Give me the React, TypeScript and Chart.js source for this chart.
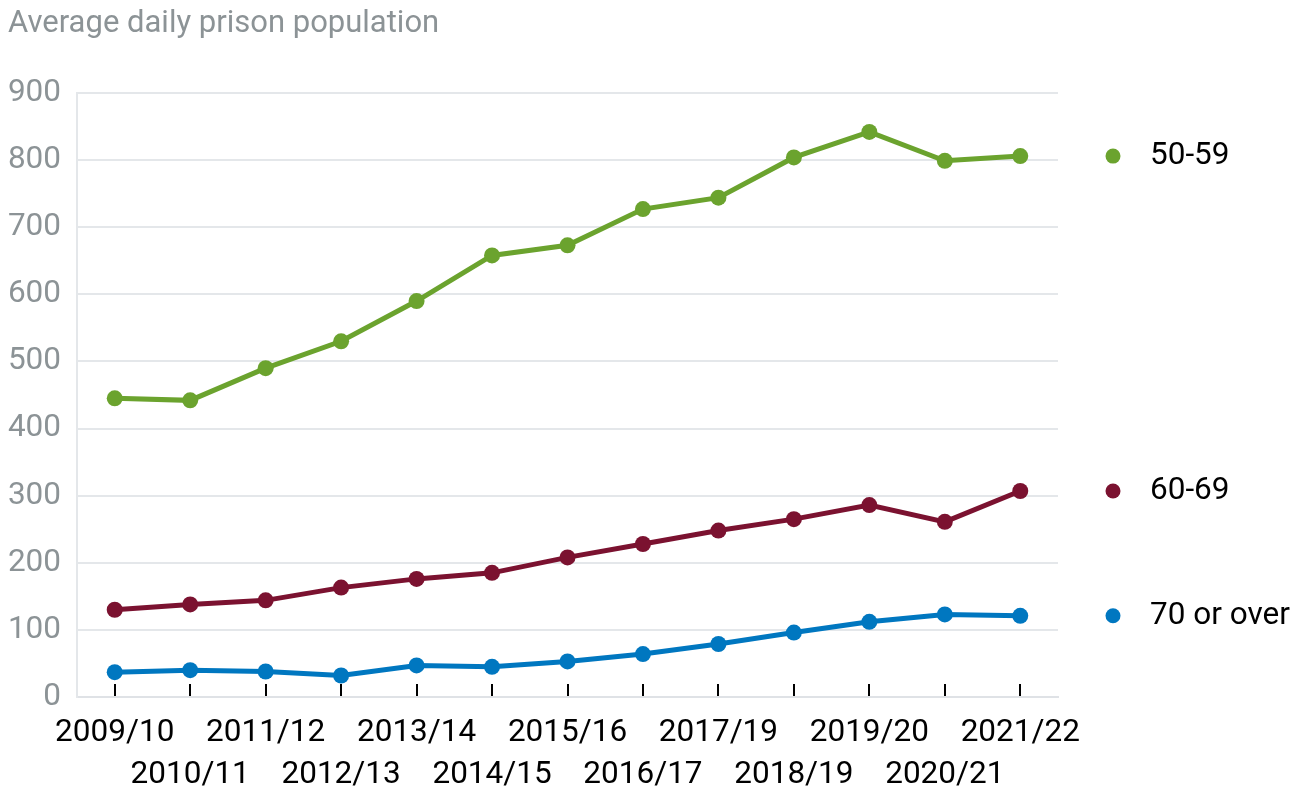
import React, { useEffect, useRef } from "react";
import { Chart, registerables } from "chart.js";

Chart.register(...registerables);

const categories = [
  "2009/10", "2010/11", "2011/12", "2012/13", "2013/14", "2014/15", "2015/16",
  "2016/17", "2017/19", "2018/19", "2019/20", "2020/21", "2021/22",
];
const age50to59 = [445, 442, 490, 530, 590, 658, 673, 727, 744, 804, 842, 799, 806];
const age60to69 = [130, 138, 144, 163, 176, 185, 208, 228, 248, 265, 286, 261, 307];
const age70plus = [37, 40, 38, 32, 47, 45, 53, 64, 79, 96, 112, 123, 121];
const seriesNames = ["50-59", "60-69", "70 or over"];
const seriesColors = ["#6ba32e", "#7b1230", "#0077c0"];
const yTicks = { min: 0, max: 900, step: 100 };
const title = "Average daily prison population";

const FONT = "Roboto, 'Noto Sans', sans-serif";

const endLabels = {
  id: "endLabels",
  afterDatasetsDraw(chart: any) {
    const { ctx, chartArea } = chart;
    ctx.save();
    chart.data.datasets.forEach((ds: any, i: number) => {
      const meta = chart.getDatasetMeta(i);
      const pt = meta.data[meta.data.length - 1];
      if (!pt) return;
      const y = pt.y;
      ctx.fillStyle = ds.borderColor;
      ctx.beginPath();
      ctx.arc(chartArea.right + 55, y, 7.5, 0, Math.PI * 2);
      ctx.fill();
      ctx.fillStyle = "#000";
      ctx.font = `31.5px ${FONT}`;
      ctx.textBaseline = "middle";
      ctx.textAlign = "left";
      ctx.fillText(ds.label, chartArea.right + 92, y);
    });
    ctx.restore();
  },
};

export default function App() {
  const ref = useRef<HTMLCanvasElement | null>(null);
  useEffect(() => {
    if (!ref.current) return;
    const values = [age50to59, age60to69, age70plus];
    const chart = new Chart(ref.current, {
      type: "line",
      data: {
        labels: categories,
        datasets: values.map((v, i) => ({
          label: seriesNames[i],
          data: v,
          borderColor: seriesColors[i],
          backgroundColor: seriesColors[i],
          pointBackgroundColor: seriesColors[i],
          pointBorderWidth: 0,
          pointRadius: 8,
          borderWidth: 5,
          tension: 0,
          clip: false as any,
        })),
      },
      options: {
        animation: false,
        responsive: false,
        maintainAspectRatio: false,
        layout: { padding: { left: 8, right: 248, top: 0, bottom: 0 } },
        plugins: {
          legend: { display: false },
          tooltip: { enabled: false },
          title: {
            display: true,
            text: title,
            align: "start",
            color: "#8c9396",
            font: { family: FONT, size: 31, weight: "normal" as any, lineHeight: 1.2 },
            padding: { top: 5.4, bottom: 50.4 },
          },
        },
        scales: {
          x: {
            type: "category",
            offset: true,
            grid: {
              display: true,
              drawOnChartArea: false,
              drawTicks: true,
              tickLength: -13,
              color: "#000",
              lineWidth: 2,
              offset: false,
            },
            border: { display: true, color: "#dfe2e6", width: 2 },
            ticks: {
              autoSkip: false,
              maxRotation: 0,
              minRotation: 0,
              padding: 28,
              color: "#000",
              font: { family: FONT, size: 31.5, lineHeight: 1.33 },
              callback: (_v: any, i: number) =>
                i % 2 === 0 ? [categories[i], ""] : ["", categories[i]],
            },
            afterFit: (s: any) => {
              s.height = 94;
            },
          },
          y: {
            min: yTicks.min,
            max: yTicks.max,
            grid: { color: "#e4e7ea", lineWidth: 2, drawTicks: false },
            border: { display: true, color: "#e4e7ea", width: 2 },
            ticks: {
              stepSize: yTicks.step,
              padding: 16,
              color: "#8c9396",
              font: { family: FONT, size: 31.5 },
            },
            afterFit: (s: any) => {
              s.width = 69;
            },
          },
        },
      },
      plugins: [endLabels],
    });
    return () => chart.destroy();
  }, []);
  return (
    <div style={{ position: "fixed", left: 0, top: 0, width: 1306, height: 791, background: "#fff" }}>
      <canvas ref={ref} width={1306} height={791} style={{ width: 1306, height: 791, display: "block" }} />
    </div>
  );
}
